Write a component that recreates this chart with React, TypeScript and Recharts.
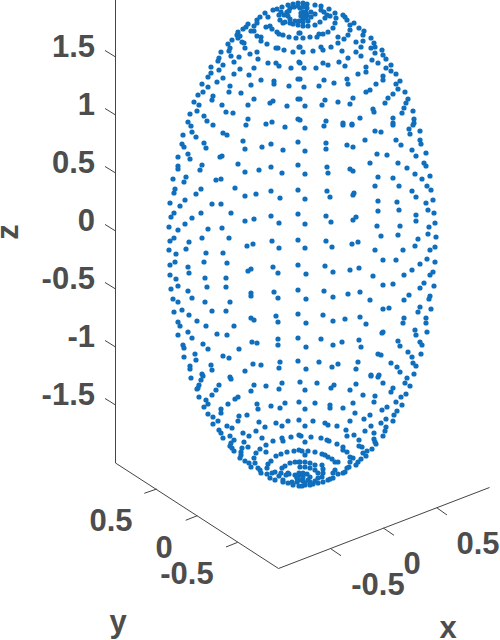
import React from 'react'
import { ReferenceDot, ReferenceLine, Scatter, ScatterChart, XAxis, YAxis } from 'recharts'

// projected points, [across, down] on the view plane, band by band
const poleTop: number[][] = [
  [304,15],[303,12],[306,12],[307,15],[306,18],[303,18],[301,16],[301,13],
  [300,8],[303,7],[307,8],[311,12],[311,17],[308,21],[303,22],[299,21],
  [315,14],[307,4],[315,5],[321,6],[329,9],[324,12],[321,10],[327,15],[325,18],[320,22],[315,25],[308,26],[303,26],
  [283,23],[280,20],[279,15],[281,12],[285,22],[290,23],[293,24],[298,25],[284,15],[287,12],[290,8],[294,7],[298,6],
  [288,16],[290,19],[295,21],[289,11],[270,26],[266,27],[272,29],[277,32],[279,34],[283,35],[289,37],[296,38],[299,33],
  [265,13],[268,17],[273,10],[277,9],[282,7],[288,5],[293,4],[298,3],[303,3],
]
const bandA: number[][] = [
  [221,52],[228,44],[230,48],[229,51],[231,56],[232,40],[238,32],[237,35],[240,36],[238,38],[242,42],[244,43],[245,48],
  [243,29],[246,27],[248,24],[254,26],[251,31],[254,31],[257,36],[261,37],[261,41],[257,20],[257,23],[260,17],
  [267,44],[276,48],[278,48],[284,50],[293,52],[299,47],[250,54],[257,52],[258,59],[239,57],[234,62],[219,58],[218,61],
  [223,65],[219,70],[211,67],[211,73],[208,77],[240,69],[234,74],[223,78],[217,82],[208,87],[202,84],[203,92],[198,95],
  [194,102],[199,105],[197,111],[190,114],[204,116],[207,121],[188,122],[213,96],[212,100],[230,86],[229,92],[241,93],
  [251,85],[249,75],[254,68],[268,63],[276,63],[279,66],[291,68],[299,62],[261,80],[274,81],[274,84],[289,86],[298,79],
  [254,99],[248,105],[273,101],[270,103],[287,106],[298,99],[222,105],[226,112],[233,113],[248,119],[272,122],[266,124],
  [298,119],[213,125],[246,125],
]
const bandB: number[][] = [
  [330,16],[335,13],[336,18],[335,23],[333,28],[328,32],[323,34],[319,34],[317,37],[310,37],[303,38],[300,33],
  [343,15],[345,17],[347,20],[350,25],[350,30],[354,23],[359,28],[364,31],[363,35],[348,35],[344,39],[338,37],[338,43],
  [363,41],[356,42],[361,47],[371,38],[374,43],[375,47],[371,48],[382,50],[375,53],[383,55],[386,59],[356,52],[361,56],
  [348,58],[342,51],[331,47],[321,47],[323,50],[313,51],[303,52],[300,47],[372,60],[378,63],[391,65],[386,68],[391,71],
  [396,74],[366,67],[366,72],[358,74],[345,66],[339,62],[328,65],[323,63],[316,68],[304,68],[300,63],[383,76],[383,80],
  [376,84],[400,81],[396,84],[398,89],[405,92],[393,94],[388,98],[385,103],[370,90],[366,92],[353,98],[350,104],[347,79],
  [348,84],[334,83],[324,80],[319,86],[304,87],[300,79],[325,100],[322,105],[338,102],[305,106],[300,99],[408,99],
  [406,103],[404,108],[402,113],[413,111],[414,119],[414,123],[373,109],[374,112],[393,118],[393,123],[360,118],[343,123],
  [352,124],[326,121],[300,120],
]
const bandC: number[][] = [
  [191,126],[285,127],[183,135],[192,132],[196,137],[182,144],[184,147],[204,143],[206,148],[223,133],[227,135],[243,141],
  [245,149],[262,147],[271,144],[283,150],[298,142],[188,154],[178,157],[190,159],[222,156],[220,157],[178,166],[178,169],
  [202,165],[200,170],[238,164],[245,172],[259,170],[271,167],[282,173],[298,165],[186,177],[173,179],[184,182],[216,180],
  [221,179],[175,189],[174,193],[201,189],[196,194],[235,188],[245,196],[256,194],[271,191],[280,198],[298,190],[170,203],
  [185,200],[180,206],[212,204],[221,204],[174,213],[171,217],[201,213],[192,218],[231,213],[245,221],[254,219],[271,216],
  [279,223],[298,214],[169,227],[185,224],[178,230],[208,229],[222,228],[174,238],[170,241],[202,238],[189,242],[229,238],
  [247,246],[253,244],[272,241],[279,248],[298,240],[186,249],[169,250],
]
const bandD: number[][] = [
  [305,128],[324,126],[343,125],[352,125],[375,131],[381,132],[409,129],[420,131],[410,134],[393,125],[413,125],[305,151],
  [326,143],[326,149],[347,145],[353,147],[365,140],[396,140],[401,145],[420,140],[421,144],[412,150],[426,153],[416,156],
  [377,154],[387,155],[327,167],[328,173],[305,174],[350,169],[353,171],[370,163],[398,163],[407,168],[424,163],[426,166],
  [415,174],[430,176],[422,179],[378,177],[393,178],[305,199],[327,191],[330,197],[354,193],[353,195],[375,186],[399,186],
  [412,191],[427,186],[431,190],[416,197],[426,203],[433,200],[378,201],[397,202],[378,211],[399,210],[428,210],[434,213],
  [416,215],[416,221],[326,216],[331,222],[305,224],[353,220],[356,217],[377,226],[400,226],[429,227],[435,223],[381,236],
  [398,235],[428,234],[436,237],[418,239],[326,241],[332,247],[305,248],[352,244],[358,242],[415,246],[435,247],[375,250],
  [403,250],[430,250],
]
const bandE: number[][] = [
  [176,254],[206,253],[223,253],[175,262],[170,265],[188,267],[204,262],[227,263],[189,273],[170,275],[176,279],[205,278],
  [226,278],[248,271],[251,269],[273,267],[278,273],[298,265],[178,286],[171,289],[188,291],[207,287],[226,287],[192,298],
  [173,299],[178,302],[205,302],[230,302],[251,293],[251,296],[274,292],[278,298],[298,290],[182,310],[174,312],[189,315],
  [212,311],[226,311],[197,321],[178,322],[180,326],[206,326],[234,326],[251,318],[254,320],[276,316],[278,322],[298,314],
  [188,332],[178,335],[192,338],[217,334],[227,335],[183,345],[184,348],[203,344],[208,349],[239,349],[252,342],[257,343],
  [278,339],[278,345],[298,338],[184,357],[195,354],[196,360],[223,356],[229,358],[190,366],[190,369],[211,365],[212,370],
  [202,374],[245,371],[253,364],[261,365],[280,362],[279,368],[298,361],
]
const bandF: number[][] = [
  [427,259],[435,262],[383,260],[396,260],[420,264],[412,270],[433,272],[430,275],[404,275],[373,276],[325,266],[333,272],
  [350,270],[359,268],[306,274],[424,283],[434,286],[420,288],[383,285],[393,284],[409,295],[430,296],[429,299],[404,300],
  [370,300],[324,291],[333,297],[348,294],[360,292],[306,299],[420,307],[431,309],[418,312],[383,309],[389,308],[404,318],
  [403,323],[426,318],[426,323],[323,315],[333,321],[345,319],[360,317],[366,324],[306,323],[415,330],[416,335],[427,332],
  [383,332],[382,333],[398,341],[400,346],[420,342],[422,345],[321,339],[333,345],[342,342],[359,340],[361,347],[306,347],
  [408,352],[412,357],[421,354],[378,354],[381,355],[413,363],[416,366],[391,363],[397,367],[400,372],[319,362],[332,367],
  [338,364],[358,362],[356,369],[306,369],[371,375],[414,374],[379,375],
]
const bandG: number[][] = [
  [191,378],[201,380],[203,376],[230,377],[231,379],[199,385],[197,389],[198,388],[219,385],[216,390],[212,395],[254,385],
  [251,391],[266,386],[282,383],[279,389],[199,397],[206,400],[208,404],[204,407],[238,397],[235,399],[228,404],[221,409],
  [221,413],[257,404],[258,409],[271,406],[285,403],[280,408],[299,402],[208,414],[213,417],[218,421],[213,424],[239,416],
  [238,421],[247,415],[227,426],[232,428],[259,422],[265,427],[276,423],[282,426],[288,421],[299,420],[219,430],[221,433],
  [223,438],[230,436],[243,433],[249,436],[256,431],[262,438],[273,441],[282,438],[283,441],[291,437],[299,435],[234,440],
  [231,443],[230,446],[232,448],[234,451],[244,442],[248,447],[242,448],[241,452],[241,455],[240,458],[260,449],[266,445],
  [266,452],[256,453],[276,456],[281,454],[287,452],[294,451],[299,450],[245,461],[249,463],[251,467],[254,458],[255,463],
  [258,468],[260,470],[261,473],
]
const bandH: number[][] = [
  [300,382],[317,383],[305,390],[334,385],[331,388],[356,384],[350,390],[371,376],[378,377],[383,383],[407,378],[405,383],
  [410,386],[393,388],[391,392],[406,394],[401,397],[363,395],[375,396],[374,402],[396,402],[402,405],[387,407],[382,410],
  [397,411],[394,415],[353,403],[343,408],[315,403],[330,405],[330,408],[305,409],[355,413],[370,415],[364,419],[350,421],
  [386,419],[381,423],[393,421],[386,427],[385,431],[313,421],[325,423],[328,425],[337,426],[305,426],[371,426],[346,430],
  [365,431],[374,433],[383,436],[354,435],[347,436],[311,437],[321,438],[301,436],[327,440],[329,441],[305,442],[359,440],
  [374,439],[375,442],[376,444],[337,444],[343,447],[343,450],[359,446],[362,447],[372,449],[347,452],[367,451],[363,453],
  [366,456],[302,451],[308,451],[315,452],[322,454],[325,455],[328,457],[350,457],[353,458],[361,459],[358,462],[356,465],
  [305,455],[332,459],[335,462],[338,462],[350,462],[349,467],[347,468],[345,472],[335,470],[333,473],[338,474],[343,473],
  [333,478],[330,479],[328,480],
]
const poleBottom: number[][] = [
  [271,461],[268,464],[267,468],[267,474],[270,478],[275,480],[272,473],[275,472],[279,476],[283,480],[283,482],[288,483],
  [293,485],[299,486],[282,468],[285,466],[290,463],[295,462],[299,462],[281,473],[286,475],[288,473],[295,475],[299,473],
  [297,478],[292,482],[297,482],[289,474],[300,462],[305,462],[310,463],[315,465],[322,465],[323,469],[323,473],[322,477],
  [323,482],[318,483],[313,484],[310,485],[305,485],[302,486],[300,467],[305,467],[310,468],[315,470],[318,473],[318,478],
  [315,481],[310,482],[305,483],[300,475],[303,473],[307,474],[310,477],[308,480],[303,481],[299,480],[297,477],[303,477],
]

const points = [poleTop, bandA, bandB, bandC, bandD, bandE, bandF, bandG, bandH, poleBottom]
  .flat()
  .map(([x, y]) => ({ x, y }))

const zTicks = [-1.5, -1, -0.5, 0, 0.5, 1, 1.5]

// the 3d box: lines on the view plane
const boxLines = [
  [115.5, 0, 115.5, 463],
  [115.5, 463, 278.5, 568.5],
  [278.5, 568.5, 489.5, 487.5],
]
const floorTicks = [
  [156.7, 489, 144.3, 493.3],
  [197.3, 515.7, 185.7, 520.3],
  [237.7, 542.3, 226, 547],
  [330.7, 548.7, 341, 555.7],
  [383.3, 528, 394, 535.3],
  [436.7, 507.7, 447, 515],
]
const floorLabels: [string, number, number][] = [
  ['0.5', 111, 520],
  ['0', 164, 547],
  ['-0.5', 187, 573],
  ['-0.5', 378, 584],
  ['0', 412, 563],
  ['0.5', 478, 543],
]
const axisNames: [string, number, number][] = [
  ['y', 118, 621],
  ['x', 448, 627],
]

const inkColor = '#4d4d4d'
const lineColor = '#444444'
const fontFamily = '"Liberation Sans", Arial, sans-serif'
const fontSize = 31
const zAxisLeft = 115.5

function ZTick({ y, payload }: any) {
  return <g>
    <line x1={zAxisLeft} y1={y} x2={zAxisLeft - 10.5} y2={y - 6.5} stroke={lineColor} strokeWidth={1} />
    <text x={95} y={y} textAnchor="end" fill={inkColor} fontFamily={fontFamily} fontSize={fontSize} fontWeight="bold">
      {payload.value}
    </text>
  </g>
}

function plainText(value: string) {
  return (p: any) => <text
    x={p.cx}
    y={p.cy + fontSize * 0.358}
    textAnchor="middle"
    fill={inkColor}
    fontFamily={fontFamily}
    fontSize={fontSize}
    fontWeight="bold"
  >
    {value}
  </text>
}

export default function App() {
  return <div style={{ position: 'absolute', left: 0, top: 0, width: 500, height: 640, background: '#fff' }}>
    <ScatterChart width={500} height={640} margin={{ top: 0, right: 0, bottom: 0, left: 0 }}>
      <XAxis type="number" dataKey="x" domain={[115, 500]} allowDataOverflow hide />
      <YAxis yAxisId="plane" type="number" dataKey="y" domain={[0, 640]} reversed allowDataOverflow hide />
      <YAxis
        yAxisId="z"
        type="number"
        width={115}
        domain={[-3.526, 1.991]}
        allowDataOverflow
        ticks={zTicks}
        interval={0}
        axisLine={false}
        tickLine={false}
        tickSize={0}
        tick={<ZTick />}
      />
      {boxLines.concat(floorTicks).map(([x1, y1, x2, y2], i) => <ReferenceLine
        key={i}
        yAxisId="plane"
        segment={[{ x: x1, y: y1 }, { x: x2, y: y2 }]}
        stroke={lineColor}
        strokeWidth={1}
        ifOverflow="visible"
      />)}
      <Scatter
        yAxisId="plane"
        data={points}
        fill="#0f6fbd"
        isAnimationActive={false}
        shape={(p: any) => <circle cx={p.cx} cy={p.cy} r={2.6} fill="#0f6fbd" />}
      />
      {floorLabels.concat(axisNames).map(([t, x, y], i) => <ReferenceDot
        key={i}
        yAxisId="plane"
        x={x}
        y={y}
        r={0}
        ifOverflow="visible"
        shape={plainText(t)}
      />)}
      <ReferenceDot
        yAxisId="plane"
        x={116}
        y={232}
        r={0}
        ifOverflow="visible"
        shape={(p: any) => <text
          transform={`translate(${p.cx - 98} ${p.cy}) rotate(-90)`}
          textAnchor="middle"
          fill={inkColor}
          fontFamily={fontFamily}
          fontSize={fontSize}
          fontWeight="bold"
        >
          z
        </text>}
      />
    </ScatterChart>
  </div>
}
